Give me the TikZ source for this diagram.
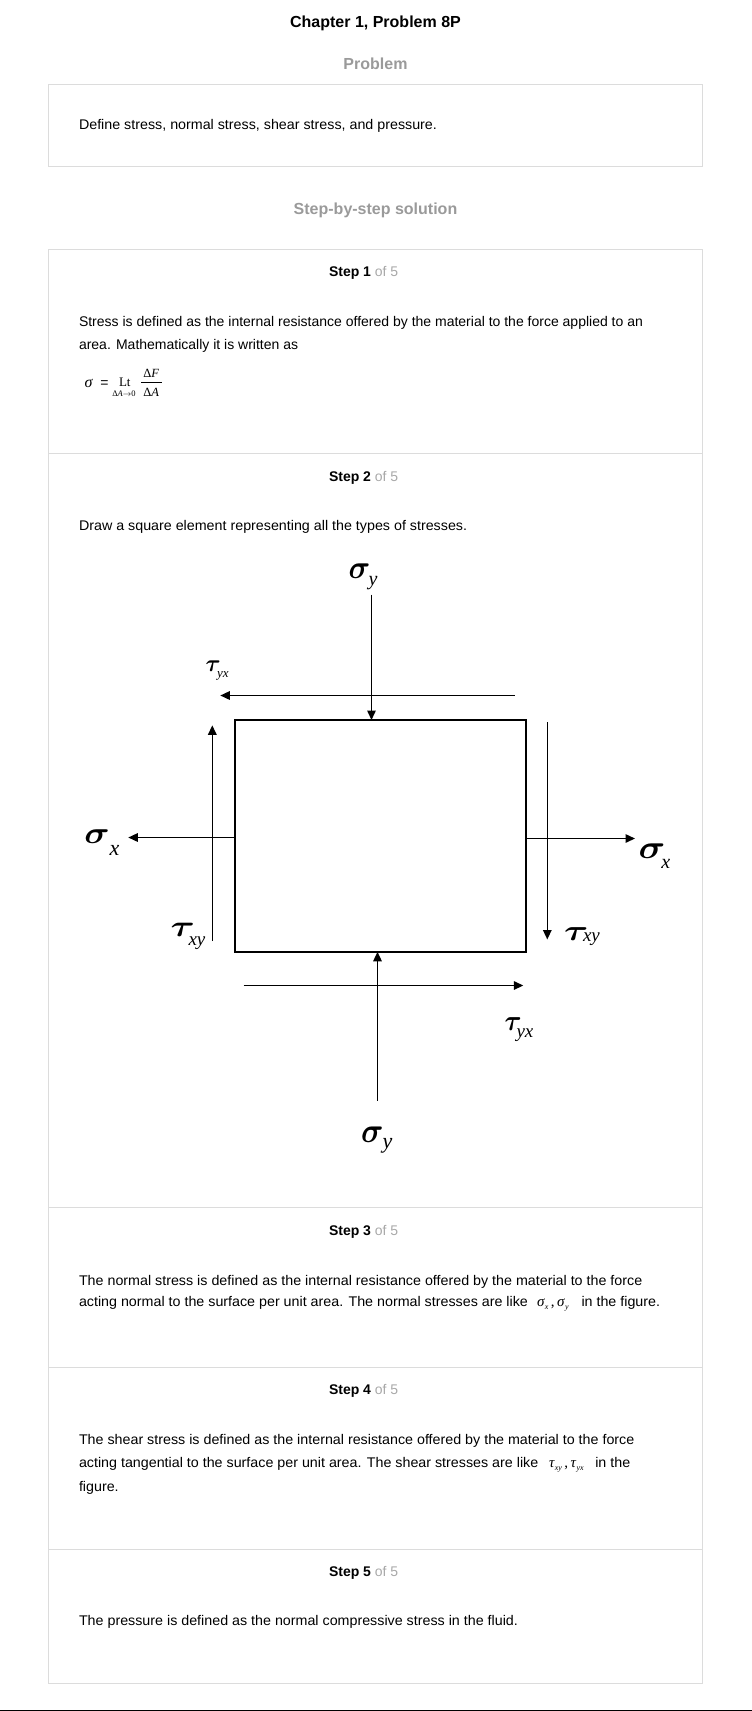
\documentclass[tikz,border=0pt]{standalone}
\usepackage{graphicx}
\usepackage{fontspec}
\setmainfont{Liberation Sans}
\newfontfamily\bodyw{Liberation Sans}[FakeStretch=1.02]
\newfontfamily\grk{Liberation Serif}
\usetikzlibrary{arrows.meta}
\definecolor{headgray}{HTML}{9A9A9A}
\definecolor{ofgray}{HTML}{A8A8A8}
\definecolor{boxgray}{HTML}{DCDCDC}
\newcommand{\pxs}[1]{\fontsize{#1}{#1}\selectfont}
\newcommand{\bigglyph}[3]{\scalebox{#1}[#2]{\boldmath$#3$}}
\begin{document}
\begin{tikzpicture}[x=1pt,y=-1pt,
  every node/.style={inner sep=0pt, outer sep=0pt},
  txt/.style={anchor=base west, font=\bodyw\pxs{14}},
  txtn/.style={anchor=base west, font=\pxs{14}},
  titlestyle/.style={anchor=base, font=\pxs{16}\bfseries},
  sechead/.style={anchor=base, font=\pxs{16}\bfseries, text=headgray},
  stephead/.style={anchor=base west, font=\pxs{14}},
  panel/.style={draw=boxgray, line width=1pt},
  arr/.style={line width=1.5pt, -{Triangle[length=9.5pt,width=8.5pt]}},
  glab/.style={anchor=base west, font=\pxs{10}},
  slab/.style={anchor=base west, font=\grk\itshape},
  mth/.style={anchor=base west, font=\grk},
]
\useasboundingbox (0,0) rectangle (752,1711);

% headings
\node[titlestyle] (ttl) at (375.5,27.5) {Chapter 1, Problem 8P};
\node[sechead] (hprob) at (375.5,69) {Problem};
\node[panel, anchor=north west, minimum width=654.6pt, minimum height=82pt] (probbox) at (48,84.3) {};
\node[txt] (ptext) at (79,129) {Define stress, normal stress, shear stress, and pressure.};
\node[sechead] (hsol) at (375.5,214) {Step-by-step solution};

% steps panel
\node[panel, anchor=north west, minimum width=654.6pt, minimum height=1434pt] (stepbox) at (48,249.3) {};
\draw[panel] (48,453.8) -- (702.6,453.8);
\draw[panel] (48,1207.3) -- (702.6,1207.3);
\draw[panel] (48,1367.3) -- (702.6,1367.3);
\draw[panel] (48,1549.3) -- (702.6,1549.3);

% step 1
\node[stephead] (s1h) at (329,276.6) {\textbf{Step 1} \textcolor{ofgray}{of 5}};
\node[txtn] (s1a) at (79,326.6) {Stress is defined as the internal resistance offered by the material to the force applied to an};
\node[txtn] (s1b) at (79,349) {area. Mathematically it is written as};
\node[slab] (fsig) at (84.5,387.5) {{\pxs{16}σ}};
\node[txtn] (feq) at (100.3,387.4) {=};
\node[mth] (flt) at (119,386.7) {{\pxs{13}Lt}};
\node[anchor=base, font=\grk] (flim) at (124,396.3) {{\pxs{8.5}Δ\textit{A}$\rightarrow$0}};
\node[anchor=base, font=\grk] (fnum) at (151.3,377.7) {{\pxs{12.5}Δ\textit{F}}};
\node[anchor=base, font=\grk] (fden) at (151.3,396.7) {{\pxs{12.5}Δ\textit{A}}};
\coordinate (fbarL) at (141,382.3);
\coordinate (fbarR) at (161.5,382.3);
\draw[line width=0.6pt] (fbarL) -- (fbarR);

% step 2
\node[stephead] (s2h) at (329,481.4) {\textbf{Step 2} \textcolor{ofgray}{of 5}};
\node[txt] (s2a) at (79,530.3) {Draw a square element representing all the types of stresses.};

\node[draw, line width=2pt, anchor=north west, minimum width=291.5pt, minimum height=231.8pt] (elem) at (234.5,720) {};

\coordinate (syT) at (371.5,594.5);
\draw[arr] (syT) -- (syT |- elem.north);
\coordinate (tyxTa) at (514.6,695.5);
\coordinate (tyxTb) at (220.3,695.5);
\draw[arr] (tyxTa) -- (tyxTb);
\coordinate (txyLa) at (212.3,941);
\coordinate (txyLb) at (212.3,725.3);
\draw[arr] (txyLa) -- (txyLb);
\coordinate (sxL) at (128.3,837.5);
\draw[arr] (sxL -| elem.west) -- (sxL);
\coordinate (txyRa) at (547.3,722.4);
\coordinate (txyRb) at (547.3,939.5);
\draw[arr] (txyRa) -- (txyRb);
\coordinate (sxR) at (635,838.5);
\draw[arr] (sxR -| elem.east) -- (sxR);
\coordinate (tyxBa) at (243.6,985.5);
\coordinate (tyxBb) at (523.3,985.5);
\draw[arr] (tyxBa) -- (tyxBb);
\coordinate (syB) at (377.5,1100.5);
\draw[arr] (syB) -- (syB |- elem.south);

% labels
\node[glab] (lsyT) at (348.5,578.3) {\bigglyph{3.0}{3.3}{\sigma}};
\node[slab] (lsyTs) at (368.5,585.7) {{\pxs{20}y}};
\node[glab] (ltyxT) at (205.5,671.7) {\bigglyph{2.3}{2.4}{\tau}};
\node[slab] (ltyxTs) at (217,677.5) {{\pxs{13}yx}};
\node[glab] (lsxL) at (84.3,843.3) {\bigglyph{3.5}{3.1}{\sigma}};
\node[slab] (lsxLs) at (109.5,855) {{\pxs{22}x}};
\node[glab] (ltxyL) at (170.5,936.7) {\bigglyph{3.7}{3.0}{\tau}};
\node[slab] (ltxyLs) at (188.5,945.4) {{\pxs{19}xy}};
\node[glab] (lsxR) at (638.6,858.3) {\bigglyph{3.7}{3.3}{\sigma}};
\node[slab] (lsxRs) at (661.3,868.3) {{\pxs{20}x}};
\node[glab] (ltxyR) at (564,940) {\bigglyph{3.7}{2.9}{\tau}};
\node[slab] (ltxyRs) at (583,941.7) {{\pxs{19}xy}};
\node[glab] (ltyxB) at (504.5,1030) {\bigglyph{2.6}{2.9}{\tau}};
\node[slab] (ltyxBs) at (516.5,1037) {{\pxs{19}yx}};
\node[glab] (lsyB) at (361,1142.7) {\bigglyph{3.1}{3.5}{\sigma}};
\node[slab] (lsyBs) at (382.5,1148.5) {{\pxs{22}y}};

% step 3
\node[stephead] (s3h) at (329,1235.7) {\textbf{Step 3} \textcolor{ofgray}{of 5}};
\node[txt] (s3a) at (79,1285) {The normal stress is defined as the internal resistance offered by the material to the force};
\node[txt] (s3b) at (79,1306.8) {acting normal to the surface per unit area. The normal stresses are like};
\node[mth] (s3m) at (537,1306.8) {{\pxs{15}\textit{σ}\raisebox{-3pt}{\pxs{8}\textit{x}}\,,\,\textit{σ}\raisebox{-3pt}{\pxs{8}\textit{y}}}};
\node[txt] (s3c) at (581.5,1306.8) {in the figure.};

% step 4
\node[stephead] (s4h) at (329,1394.8) {\textbf{Step 4} \textcolor{ofgray}{of 5}};
\node[txt] (s4a) at (79,1444) {The shear stress is defined as the internal resistance offered by the material to the force};
\node[txt] (s4b) at (79,1467.4) {acting tangential to the surface per unit area. The shear stresses are like};
\node[mth] (s4m) at (549,1467.4) {{\pxs{15}\textit{τ}\raisebox{-3pt}{\pxs{8}\textit{xy}}\,,\,\textit{τ}\raisebox{-3pt}{\pxs{8}\textit{yx}}}};
\node[txt] (s4c) at (595.3,1467.4) {in the};
\node[txt] (s4d) at (79,1491.7) {figure.};

% step 5
\node[stephead] (s5h) at (329,1576.2) {\textbf{Step 5} \textcolor{ofgray}{of 5}};
\node[txt] (s5a) at (79,1625.7) {The pressure is defined as the normal compressive stress in the fluid.};

% bottom rule
\coordinate (ruleL) at (0,1710.5);
\coordinate (ruleR) at (752,1710.5);
\draw[line width=1pt] (ruleL) -- (ruleR);
\end{tikzpicture}
\end{document}
